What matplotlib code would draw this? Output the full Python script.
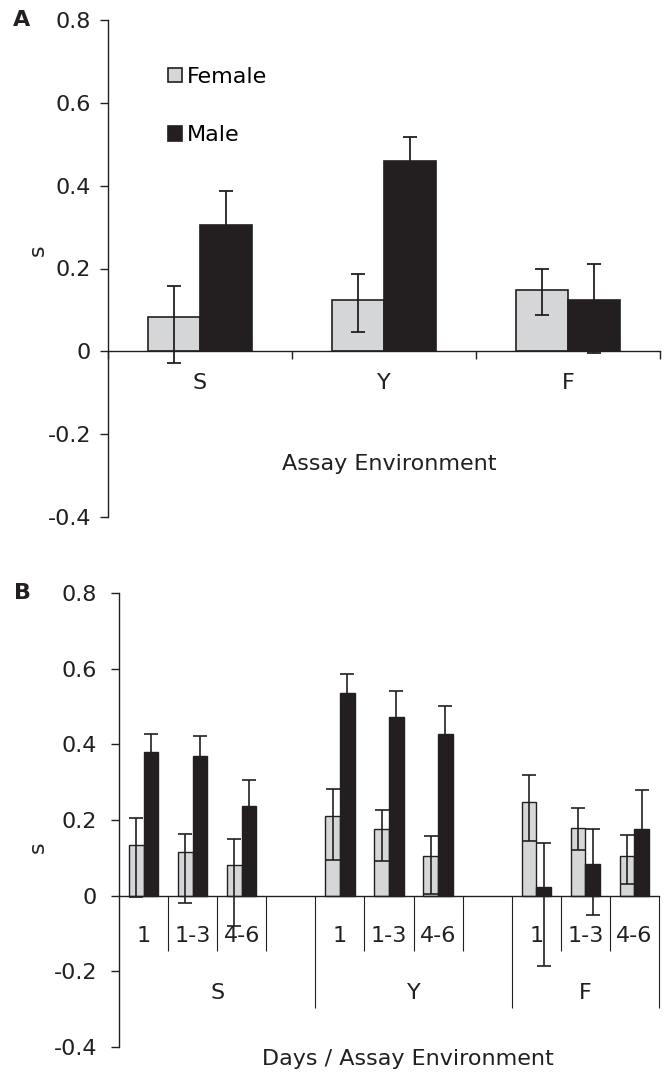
import numpy as np
import matplotlib.pyplot as plt
from matplotlib.patches import Patch

plt.rcParams['font.family'] = ['DejaVu Sans']
plt.rcParams['font.size'] = 16

female_col = '#d5d6d8'
male_col = '#231f20'
edge_col = '#231f20'

# panel A: selection coefficient by assay environment
envs = ['S', 'Y', 'F']
a_female = [0.084, 0.123, 0.149]
a_female_lo = [0.113, 0.077, 0.062]
a_female_hi = [0.073, 0.063, 0.049]
a_male = [0.306, 0.460, 0.123]
a_male_lo = [0.080, 0.058, 0.128]
a_male_hi = [0.080, 0.058, 0.087]

# panel B: by days within each environment
days = ['1', '1-3', '4-6']
b_female = [0.135, 0.115, 0.080, 0.210, 0.175, 0.105, 0.247, 0.180, 0.106]
b_female_lo = [0.139, 0.134, 0.159, 0.115, 0.084, 0.101, 0.103, 0.059, 0.075]
b_female_hi = [0.070, 0.047, 0.071, 0.072, 0.051, 0.053, 0.073, 0.053, 0.054]
b_male = [0.379, 0.370, 0.237, 0.536, 0.471, 0.427, 0.022, 0.084, 0.175]
b_male_lo = [0.049, 0.053, 0.070, 0.051, 0.070, 0.075, 0.207, 0.134, 0.103]
b_male_hi = [0.049, 0.053, 0.070, 0.051, 0.070, 0.075, 0.117, 0.091, 0.103]

fig = plt.figure(figsize=(6.64, 10.74), dpi=100)

def style_axis(ax, pad):
    ax.set_ylim(-0.4, 0.8)
    ax.set_yticks([-0.4, -0.2, 0, 0.2, 0.4, 0.6, 0.8])
    ax.set_yticklabels(['-0.4', '-0.2', '0', '0.2', '0.4', '0.6', '0.8'])
    ax.spines['top'].set_visible(False)
    ax.spines['right'].set_visible(False)
    ax.spines['bottom'].set_position(('data', 0))
    for s in ['left', 'bottom']:
        ax.spines[s].set_linewidth(1.0)
        ax.spines[s].set_color(edge_col)
    ax.tick_params(axis='y', direction='out', length=5.8, width=1.0, pad=pad, colors=edge_col, labelcolor='#231f20')

# ---------- A ----------
axA = fig.add_axes([108/664, 1-517/1074, 552/664, 497/1074])
style_axis(axA, 6.5)
xa = np.arange(len(envs)) + 0.5
w = 0.283
axA.bar(xa - w/2, a_female, w, color=female_col, edgecolor=edge_col, linewidth=1.2, zorder=2)
axA.bar(xa + w/2, a_male, w, color=male_col, edgecolor=edge_col, linewidth=1.2, zorder=2)
axA.errorbar(xa - w/2, a_female, yerr=[a_female_lo, a_female_hi], fmt='none', ecolor=edge_col, elinewidth=1.3, capsize=5.2, capthick=1.3, zorder=3)
axA.errorbar(xa + w/2, a_male, yerr=[a_male_lo, a_male_hi], fmt='none', ecolor=edge_col, elinewidth=1.3, capsize=5.2, capthick=1.3, zorder=3)
axA.set_xlim(0, 3)
axA.set_xticks([0, 1, 2, 3])
axA.set_xticklabels([])
axA.tick_params(axis='x', direction='out', length=5.8, width=1.0, colors=edge_col)
for x, lab in zip(xa, envs):
    axA.text(x, -0.077, lab, ha='center', va='center', color='#231f20')
axA.text(1.53, -0.272, 'Assay Environment', ha='center', va='center', color='#231f20')
handles = [Patch(facecolor=female_col, edgecolor=edge_col, linewidth=1.2),
           Patch(facecolor=male_col, edgecolor=edge_col, linewidth=1.2)]
axA.legend(handles, ['Female', 'Male'], loc='upper left', bbox_to_anchor=(0.109, 0.906),
           frameon=False, borderpad=0, handlelength=0.62, handleheight=0.62,
           handletextpad=0.2, labelspacing=1.73, borderaxespad=0)
fig.text(38/664, 1-250/1074, 's', rotation=90, ha='center', va='center', color='#231f20')
fig.text(22/664, 1-20/1074, 'A', ha='center', va='center', fontweight='bold', color='#231f20')

# ---------- B ----------
axB = fig.add_axes([119/664, 1-1047/1074, 540/664, 454/1074])
style_axis(axB, 10)
slots = np.array([4*i + j for i in range(len(envs)) for j in range(len(days))]) + 0.5
wb = 0.3
axB.bar(slots - wb/2, b_female, wb, color=female_col, edgecolor=edge_col, linewidth=1.0, zorder=2)
axB.bar(slots + wb/2, b_male, wb, color=male_col, edgecolor=edge_col, linewidth=1.0, zorder=2)
axB.errorbar(slots - wb/2, b_female, yerr=[b_female_lo, b_female_hi], fmt='none', ecolor=edge_col, elinewidth=1.2, capsize=4.8, capthick=1.2, zorder=3)
axB.errorbar(slots + wb/2, b_male, yerr=[b_male_lo, b_male_hi], fmt='none', ecolor=edge_col, elinewidth=1.2, capsize=4.8, capthick=1.2, zorder=3)
n_slots = 4*len(envs) - 1
axB.set_xlim(0, n_slots)
axB.set_xticks([])
# separators: short between day slots, long between environments
short = [4*i + j for i in range(len(envs)) for j in range(1, 4) if 4*i + j < n_slots]
long = [4*i for i in range(1, len(envs))] + [n_slots]
axB.vlines(short, -0.146, 0, color=edge_col, linewidth=0.8, clip_on=False)
axB.vlines(long, -0.296, 0, color=edge_col, linewidth=0.8, clip_on=False)
for s, lab in zip(slots, days * len(envs)):
    axB.text(s, -0.106, lab, ha='center', va='center', color='#231f20')
for i, lab in enumerate(envs):
    right = min(4*i + 4, n_slots)
    axB.text((4*i + right) / 2, -0.257, lab, ha='center', va='center', color='#231f20')
axB.text(5.88, -0.431, 'Days / Assay Environment', ha='center', va='center', color='#231f20', clip_on=False)
fig.text(38/664, 1-847/1074, 's', rotation=90, ha='center', va='center', color='#231f20')
fig.text(22/664, 1-593/1074, 'B', ha='center', va='center', fontweight='bold', color='#231f20')

fig.savefig('out.png', dpi=100)
